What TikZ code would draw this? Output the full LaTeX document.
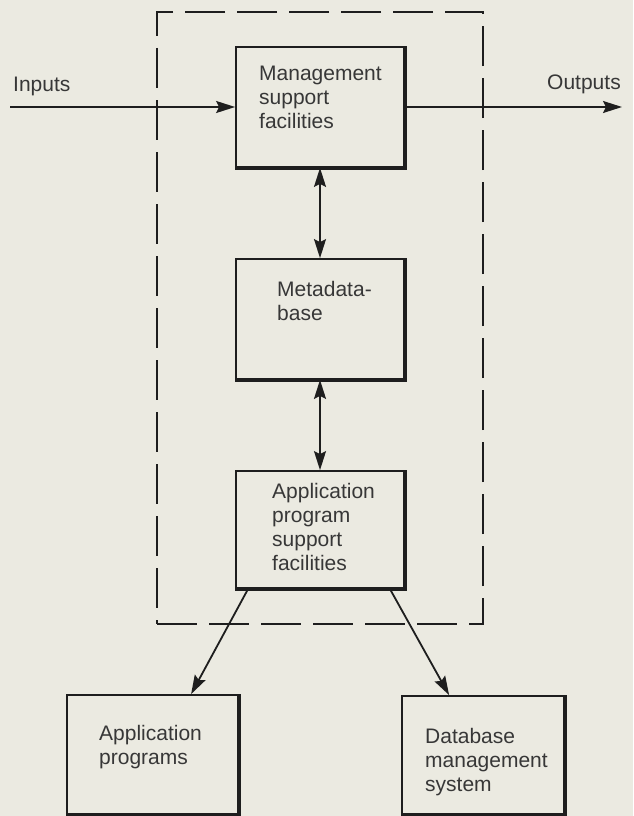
\documentclass[tikz,border=0pt]{standalone}
\usepackage{fontspec}
\setmainfont{Liberation Sans}
\usetikzlibrary{arrows.meta,calc}
\definecolor{paper}{RGB}{235,234,225}
\definecolor{ink}{RGB}{30,30,30}
\definecolor{txtc}{RGB}{55,55,55}

\begin{document}
\begin{tikzpicture}[x=1pt, y=-1pt,
    blk/.style={draw=ink, line width=1.8pt, inner sep=0pt},
    edg/.style={ink, line width=3.6pt},
    bnd/.style={draw=ink, line width=1.8pt, dash pattern=on 40pt off 12pt, inner sep=0pt},
    arr/.style={draw=ink, line width=1.8pt, -{Stealth[length=19pt, width=12pt, inset=3pt]}},
    dbl/.style={arr, {Stealth[length=19pt, width=12pt, inset=3pt]}-{Stealth[length=19pt, width=12pt, inset=3pt]}},
    lbl/.style={font=\fontsize{21}{24}\selectfont, text=txtc, align=left, inner sep=0pt, anchor=north west}
]
\fill[paper] (0,0) rectangle (633,816);
\useasboundingbox (0,0) rectangle (633,816);

\node[bnd, minimum width=326pt, minimum height=612pt] (sys) at (320,318) {};

\node[blk, minimum width=168pt, minimum height=120pt] (mgmt) at (320,107) {};
\node[blk, minimum width=168pt, minimum height=120pt] (meta) at (320,319) {};
\node[blk, minimum width=168pt, minimum height=117pt] (apsf) at (320,529.5) {};
\node[blk, minimum width=171pt, minimum height=119pt] (apps) at (152.5,754.5) {};
\node[blk, minimum width=162pt, minimum height=118pt] (dbms) at (483,755) {};
\foreach \b in {mgmt,meta,apsf,apps,dbms}
    \draw[edg] (\b.north east) -- (\b.south east) -- (\b.south west);

\node[lbl] (mgmtT) at (259,66) {Management\\support\\facilities};
\node[lbl] (metaT) at (277,281) {Metadata-\\base};
\node[lbl] (apsfT) at (272,483) {Application\\program\\support\\facilities};
\node[lbl] (appsT) at (99,725) {Application\\programs};
\node[lbl] (dbmsT) at (425,728) {Database\\management\\system};
\node[lbl] (inT) at (13,77) {Inputs};
\node[lbl] (outT) at (547,75) {Outputs};

\coordinate (src) at (10,107);
\coordinate (snk) at (622,107);

\draw[arr] (src) -- (mgmt.west);
\draw[arr] (mgmt.east) -- (snk);
\draw[dbl] (mgmt) -- (meta);
\draw[dbl] (meta) -- (apsf);
\draw[arr] ($(apsf.south west)+(13,0)$) -- ($(apps.north west)+(125,0)$);
\draw[arr] ($(apsf.south east)+(-15,0)$) -- ($(dbms.north west)+(48,0)$);
\end{tikzpicture}
\end{document}
